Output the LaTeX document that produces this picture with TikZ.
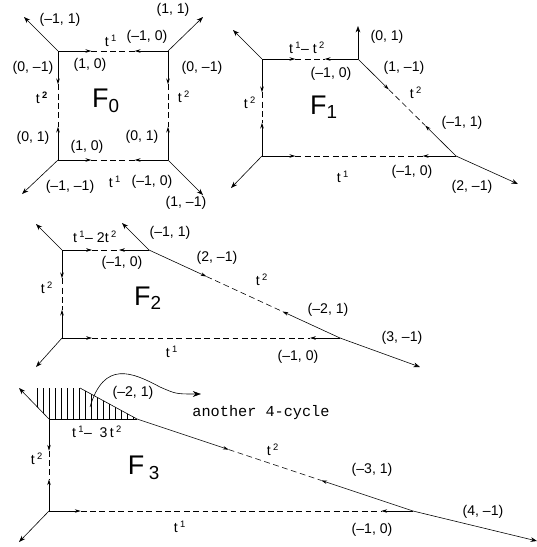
\documentclass[tikz,border=0pt]{standalone}
\usepackage{fontspec}
\setmainfont{Liberation Sans}
\newfontfamily\monofont{Liberation Mono}
\usetikzlibrary{arrows.meta,calc}

% power of t
\newcommand{\tp}[1]{t\,\textsuperscript{#1}}
% edge of a face: solid ends with arrows, dashed middle
\newcommand{\cutedge}[3][1cm]{%
  \draw[half] (#2) -- ($(#2)!#1!(#3)$);
  \draw[half] (#3) -- ($(#3)!#1!(#2)$);
  \draw[cut] ($(#2)!#1!(#3)$) -- ($(#3)!#1!(#2)$);
}

\begin{document}
\begin{tikzpicture}[x=0.03cm,y=-0.03cm,line width=0.5pt,
    lab/.style={font=\fontsize{12}{14}\selectfont,inner sep=0pt},
    face/.style={font=\fontsize{23}{25}\selectfont,inner sep=0pt},
    ray/.style={-{Stealth[length=5.5pt,width=4pt]}},
    half/.style={-{Stealth[length=5pt,width=3pt]}},
    cut/.style={dash pattern=on 5pt off 3pt}]
    \useasboundingbox (0,0) rectangle (537,547);

    % Face F0
    \coordinate (a0) at (58,51);
    \coordinate (b0) at (168,51);
    \coordinate (c0) at (58,160);
    \coordinate (d0) at (168,160);
    \coordinate (ra0) at (24,17);
    \coordinate (rb0) at (203,17);
    \coordinate (rc0) at (22,194);
    \coordinate (rd0) at (203,195);
    \draw[ray] (a0) -- (ra0);
    \draw[ray] (b0) -- (rb0);
    \draw[ray] (c0) -- (rc0);
    \draw[ray] (d0) -- (rd0);
    \cutedge{a0}{b0}
    \cutedge{a0}{c0}
    \cutedge{b0}{d0}
    \cutedge{c0}{d0}
    \node[lab] (n0a) at (60,20) {(–1, 1)};
    \node[lab] (n0b) at (173,10) {(1, 1)};
    \node[lab] (n0c) at (111,41) {\tp{1}};
    \node[lab] (n0d) at (147,37) {(–1, 0)};
    \node[lab] (n0e) at (90,65) {(1, 0)};
    \node[lab] (n0f) at (33,68) {(0, –1)};
    \node[lab] (n0g) at (42,98) {t\,\textsuperscript{\textbf{2}}};
    \node[face] (F0) at (106,101) {F\textsubscript{0}};
    \node[lab] (n0h) at (202,68) {(0, –1)};
    \node[lab] (n0i) at (184,97) {\tp{2}};
    \node[lab] (n0j) at (33,138) {(0, 1)};
    \node[lab] (n0k) at (87,147) {(1, 0)};
    \node[lab] (n0l) at (142,137) {(0, 1)};
    \node[lab] (n0m) at (115,182) {\tp{1}};
    \node[lab] (n0n) at (152,182) {(–1, 0)};
    \node[lab] (n0o) at (70,187) {(–1, –1)};
    \node[lab] (n0p) at (186,203) {(1, –1)};

    % Face F1
    \coordinate (a1) at (262,59);
    \coordinate (b1) at (358,59);
    \coordinate (c1) at (262,156);
    \coordinate (d1) at (456,156);
    \coordinate (ra1) at (233,30);
    \coordinate (rb1) at (358,26);
    \coordinate (rc1) at (231,188);
    \coordinate (rd1) at (518,184);
    \draw[ray] (a1) -- (ra1);
    \draw[ray] (b1) -- (rb1);
    \draw[ray] (c1) -- (rc1);
    \draw[ray] (d1) -- (rd1);
    \cutedge{a1}{b1}
    \cutedge{a1}{c1}
    \cutedge{c1}{d1}
    \cutedge[1.3cm]{b1}{d1}
    \node[lab] (n1a) at (307,48) {\tp{1}– \tp{2}};
    \node[lab] (n1b) at (387,37) {(0, 1)};
    \node[lab] (n1c) at (331,74) {(–1, 0)};
    \node[lab] (n1d) at (404,68) {(1, –1)};
    \node[lab] (n1e) at (416,93) {\tp{2}};
    \node[face] (F1) at (324,107) {F\textsubscript{1}};
    \node[lab] (n1f) at (250,103) {\tp{2}};
    \node[lab] (n1g) at (462,123) {(–1, 1)};
    \node[lab] (n1h) at (412,172) {(–1, 0)};
    \node[lab] (n1i) at (343,177) {\tp{1}};
    \node[lab] (n1j) at (472,187) {(2, –1)};

    % Face F2
    \coordinate (a2) at (62,250);
    \coordinate (b2) at (149,250);
    \coordinate (c2) at (62,338);
    \coordinate (d2) at (340,338);
    \coordinate (ra2) at (36,224);
    \coordinate (rb2) at (122,223);
    \coordinate (rc2) at (36,367);
    \coordinate (rd2) at (420,367);
    \draw[ray] (a2) -- (ra2);
    \draw[ray] (b2) -- (rb2);
    \draw[ray] (c2) -- (rc2);
    \draw[ray] (d2) -- (rd2);
    \cutedge[0.9cm]{a2}{b2}
    \cutedge[0.85cm]{a2}{c2}
    \cutedge[0.9cm]{c2}{d2}
    \cutedge[1.9cm]{b2}{d2}
    \node[lab] (n2a) at (95,237) {\tp{1}– 2\tp{2}};
    \node[lab] (n2b) at (170,233) {(–1, 1)};
    \node[lab] (n2c) at (122,263) {(–1, 0)};
    \node[lab] (n2d) at (217,258) {(2, –1)};
    \node[lab] (n2e) at (262,280) {\tp{2}};
    \node[lab] (n2f) at (47,288) {\tp{2}};
    \node[face] (F2) at (148,298) {F\textsubscript{2}};
    \node[lab] (n2g) at (328,310) {(–2, 1)};
    \node[lab] (n2h) at (402,338) {(3, –1)};
    \node[lab] (n2i) at (172,352) {\tp{1}};
    \node[lab] (n2j) at (298,357) {(–1, 0)};

    % Face F3
    \coordinate (a3) at (49,419);
    \coordinate (b3) at (137,419);
    \coordinate (c3) at (49,511);
    \coordinate (d3) at (413,511);
    \coordinate (ra3) at (19,388);
    \coordinate (rb3) at (80,388);
    \coordinate (rc3) at (19,542);
    \coordinate (rd3) at (537,541);
    % hatched part: another 4-cycle
    \begin{scope}
        \clip (ra3) -- (rb3) -- (b3) -- (a3) -- cycle;
        \foreach \x in {37,43,...,135}
            \draw[line width=0.4pt] (\x,386) -- (\x,421);
    \end{scope}
    \draw[ray] (a3) -- (ra3);
    \draw (b3) -- (rb3);
    \draw[ray] (c3) -- (rc3);
    \draw[ray] (d3) -- (rd3);
    \draw (a3) -- (b3);
    \cutedge[0.95cm]{a3}{c3}
    \cutedge[0.95cm]{c3}{d3}
    \cutedge[2.9cm]{b3}{d3}
    \node[lab] (n3a) at (133,393) {(–2, 1)};
    \node[font=\monofont\fontsize{13}{15}\selectfont,inner sep=0pt] (cyc) at (261,413) {another 4-cycle};
    \coordinate (tip) at (201,394);
    \draw[-{Stealth[length=7pt,width=5pt]}] (90,407) .. controls (104,360) and (132,372) .. (160,387) .. controls (176,394) .. (tip);
    \node[lab] (n3b) at (97,432) {t\,\textsuperscript{1}– \;3\,t\,\textsuperscript{2}};
    \node[lab] (n3c) at (37,459) {\tp{2}};
    \node[face] (F3) at (144,468) {F\,\textsubscript{3}};
    \node[lab] (n3d) at (273,450) {t\,\textsuperscript{2}};
    \node[lab] (n3e) at (372,470) {(–3, 1)};
    \node[lab] (n3f) at (483,512) {(4, –1)};
    \node[lab] (n3g) at (180,527) {t\,\textsuperscript{1}};
    \node[lab] (n3h) at (372,530) {(–1, 0)};
\end{tikzpicture}
\end{document}
